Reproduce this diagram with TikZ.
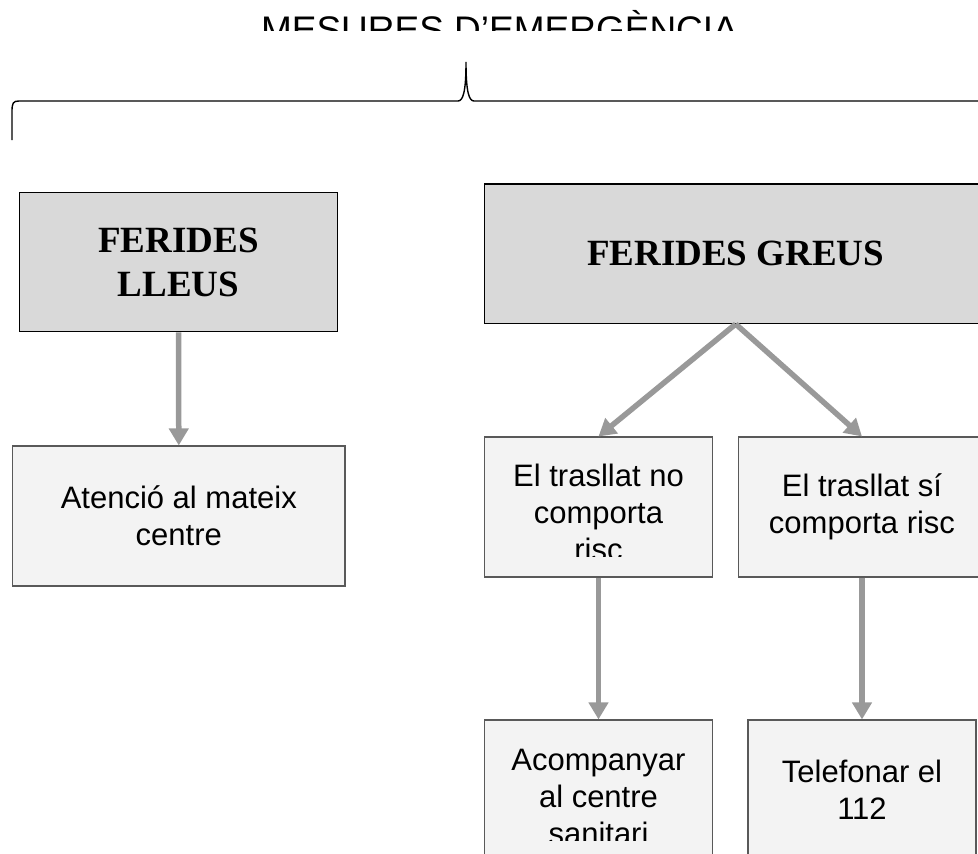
\documentclass[tikz,border=0pt]{standalone}
\usepackage{fontspec}
\setmainfont{Liberation Sans}
\newfontfamily\serifbf{Liberation Serif}
\usetikzlibrary{arrows.meta}
\definecolor{capsa}{HTML}{D9D9D9}
\definecolor{caixa}{HTML}{F3F3F3}
\definecolor{vora}{HTML}{595959}
\definecolor{grisfletxa}{HTML}{999999}

\begin{document}
\begin{tikzpicture}[x=1pt,y=-1pt,
		capsalera/.style={draw=black,line width=1.3pt,fill=capsa,minimum height=139.4pt,align=center,
			font=\serifbf\bfseries\fontsize{37}{44}\selectfont},
		mesura/.style={draw=vora,line width=1.1pt,fill=caixa,minimum height=140pt,align=center,
			font=\fontsize{31}{37}\selectfont},
		lletra/.style={align=center,font=\fontsize{31}{37}\selectfont},
		fletxa/.style={draw=grisfletxa,line width=5.5pt,-{Triangle[length=17pt,width=19pt]}},
		claudator/.style={line width=1.4pt}]
		\useasboundingbox (0,0) rectangle (978,854);
		\clip (0,0) rectangle (978,854);
		% titol (tallat per dalt)
		\begin{scope}
			\clip (0,0) rectangle (978,30);
			\node[anchor=base,font=\fontsize{37}{44}\selectfont] (titol) at (499.5,42.5) {MESURES D’EMERGÈNCIA};
		\end{scope}
		\draw[claudator] (12,140) -- (12,112) .. controls (12,103) and (13,101) .. (19,101) -- (458,101)
			.. controls (463,101) and (466,92) .. (466,62) .. controls (466,92) and (469,101) .. (474,101) -- (978,101);
		% capcaleres
		\node[capsalera,minimum width=318.4pt] (lleus) at (178.5,262) {FERIDES\\LLEUS};
		\node[capsalera,minimum width=503pt] (greus) at (735.7,253.7) {FERIDES GREUS};
		% mesures
		\node[mesura,minimum width=332.3pt] (atencio) at (178.8,516) {Atenció al mateix\\centre};
		\node[mesura,minimum width=228.4pt] (trnorisc) at (598.5,507) {};
		\node[mesura,minimum width=247.4pt] (trsirisc) at (862,507) {El trasllat sí\\comporta risc};
		\node[mesura,minimum width=228.4pt] (acomp) at (598.5,790) {};
		\node[mesura,minimum width=228pt] (telef) at (862,790) {Telefonar el\\112};
		\begin{scope}
			\clip (484,437) rectangle (713,556);
			\node[lletra] (trnorisctxt) at (598.5,512) {El trasllat no\\comporta\\risc};
		\end{scope}
		\begin{scope}
			\clip (484,720) rectangle (713,840);
			\node[lletra] (acomptxt) at (598.5,796.6) {Acompanyar\\al centre\\sanitari};
		\end{scope}
		% fletxes
		\draw[fletxa] (lleus.south) -- (atencio.north);
		\draw[fletxa] (greus.south) -- (trnorisc.north);
		\draw[fletxa] (greus.south) -- (trsirisc.north);
		\draw[fletxa] (trnorisc.south) -- (acomp.north);
		\draw[fletxa] (trsirisc.south) -- (telef.north);
	\end{tikzpicture}
\end{document}
